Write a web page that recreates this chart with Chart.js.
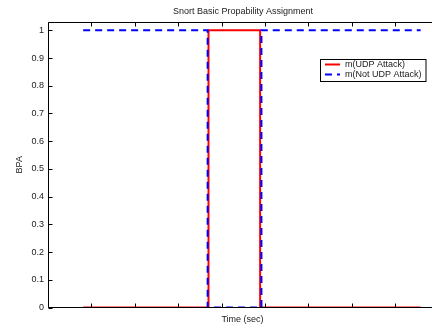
<!DOCTYPE html>
<html>
<head>
<meta charset="utf-8">
<script src="https://cdn.jsdelivr.net/npm/chart.js@4.4.0/dist/chart.umd.min.js"></script>
<style>
  html, body { margin: 0; padding: 0; background: #fff; overflow: hidden; }
</style>
</head>
<body>
<canvas id="c" width="432" height="331"></canvas>
<script>
// ---- data ----
const timeUDP    = [0.81, 3.70, 3.70, 4.89, 4.89, 8.59];
const mUDP       = [0, 0, 1, 1, 0, 0];
const timeNotUDP = [0.81, 3.68, 3.68, 4.92, 4.92, 8.59];
const mNotUDP    = [1, 1, 0, 0, 1, 1];
const xTicks = [0, 1, 2, 3, 4, 5, 6, 7, 8];
const yTicks = [0, 0.1, 0.2, 0.3, 0.4, 0.5, 0.6, 0.7, 0.8, 0.9, 1];
const yTickLabels = ['0', '0.1', '0.2', '0.3', '0.4', '0.5', '0.6', '0.7', '0.8', '0.9', '1'];
const seriesNames = ['m(UDP Attack)', 'm(Not UDP Attack)'];
const chartTitle = 'Snort Basic Propability Assignment';
const xTitle = 'Time (sec)';
const yTitle = 'BPA';

const FONT = 'Liberation Sans, Arial, Helvetica, sans-serif';
const TXT = '#1a1a1a';

const toPts = (xs, ys) => xs.map((x, i) => ({ x: x, y: ys[i] }));

const boxPlugin = {
  id: 'matlabBox',
  afterDatasetsDraw(chart) {
    const { ctx, chartArea: a } = chart;
    const xs = chart.scales.x, ys = chart.scales.y;
    ctx.save();
    ctx.strokeStyle = '#000';
    ctx.lineWidth = 1;
    const L = Math.round(a.left) + 0.5, R = a.right;
    const T = Math.round(a.top) + 0.5, B = Math.round(a.bottom) - 0.5;
    ctx.beginPath();
    ctx.moveTo(L, T); ctx.lineTo(R, T);
    ctx.moveTo(L, T); ctx.lineTo(L, B);
    ctx.moveTo(L, B); ctx.lineTo(R, B);
    const tl = 4;
    xs.ticks.forEach(t => {
      const px = Math.round(xs.getPixelForValue(t.value)) + 0.5;
      ctx.moveTo(px, B); ctx.lineTo(px, B - tl);
      ctx.moveTo(px, T); ctx.lineTo(px, T + tl);
    });
    ys.ticks.forEach(t => {
      const py = Math.round(ys.getPixelForValue(t.value)) + 0.5;
      ctx.moveTo(L, py); ctx.lineTo(L + tl, py);
    });
    ctx.stroke();

    // titles (centred on the full axis, which extends past the picture)
    ctx.fillStyle = TXT;
    ctx.font = '9px ' + FONT;
    ctx.textAlign = 'center';
    ctx.textBaseline = 'middle';
    ctx.fillText(chartTitle, 243, 12);
    ctx.fillText(xTitle, 242.5, 320);

    // legend
    const lx = 320.5, ly = 59.5, lw = 105.5, lh = 22;
    ctx.fillStyle = '#fff';
    ctx.fillRect(lx, ly, lw, lh);
    ctx.strokeRect(lx, ly, lw, lh);
    const ds = chart.data.datasets;
    const rows = [64.5, 74.5];
    ctx.textBaseline = 'middle';
    ctx.textAlign = 'left';
    ds.forEach((d, i) => {
      ctx.beginPath();
      ctx.strokeStyle = d.borderColor;
      ctx.lineWidth = 2;
      ctx.setLineDash(d.borderDash || []);
      ctx.moveTo(325, rows[i]); ctx.lineTo(340, rows[i]);
      ctx.stroke();
      ctx.setLineDash([]);
      ctx.fillStyle = TXT;
      ctx.fillText(d.label, 345, rows[i]);
    });
    ctx.restore();
  }
};

new Chart(document.getElementById('c'), {
  type: 'line',
  data: {
    datasets: [
      {
        label: seriesNames[0],
        data: toPts(timeUDP, mUDP),
        borderColor: '#ff0000',
        borderWidth: 2,
        pointRadius: 0,
        tension: 0,
        fill: false,
        order: 2
      },
      {
        label: seriesNames[1],
        data: toPts(timeNotUDP, mNotUDP),
        borderColor: '#0000ff',
        borderWidth: 2,
        borderDash: [7, 5],
        pointRadius: 0,
        tension: 0,
        fill: false,
        order: 1
      }
    ]
  },
  options: {
    responsive: false,
    animation: false,
    devicePixelRatio: 1,
    layout: { padding: 0 },
    plugins: {
      legend: { display: false },
      title: { display: false },
      tooltip: { enabled: false }
    },
    scales: {
      x: {
        type: 'linear',
        position: 'bottom',
        min: 0, max: 8.852,
        afterBuildTicks: s => { s.ticks = xTicks.map(v => ({ value: v })); },
        afterFit: s => { s.height = 23.5; },
        ticks: { display: false },
        grid: { display: false },
        border: { display: false },
        title: { display: false }
      },
      x2: {
        type: 'linear',
        axis: 'x',
        position: 'top',
        min: 0, max: 8.852,
        afterFit: s => { s.height = 22; },
        ticks: { display: false },
        grid: { display: false },
        border: { display: false },
        title: { display: false }
      },
      y: {
        type: 'linear',
        position: 'left',
        min: 0, max: 1.03,
        afterBuildTicks: s => { s.ticks = yTicks.map(v => ({ value: v })); },
        afterFit: s => { s.width = 48; },
        ticks: {
          color: TXT,
          font: { family: FONT, size: 9 },
          padding: 4,
          callback: (v) => { const i = yTicks.findIndex(t => Math.abs(t - v) < 1e-9); return i >= 0 ? yTickLabels[i] : ''; }
        },
        grid: { display: false, drawTicks: false },
        border: { display: false },
        title: {
          display: true, text: yTitle, color: TXT,
          font: { family: FONT, size: 9 },
          padding: { top: 14, bottom: 0 }
        }
      }
    }
  },
  plugins: [boxPlugin]
});
</script>
</body>
</html>
